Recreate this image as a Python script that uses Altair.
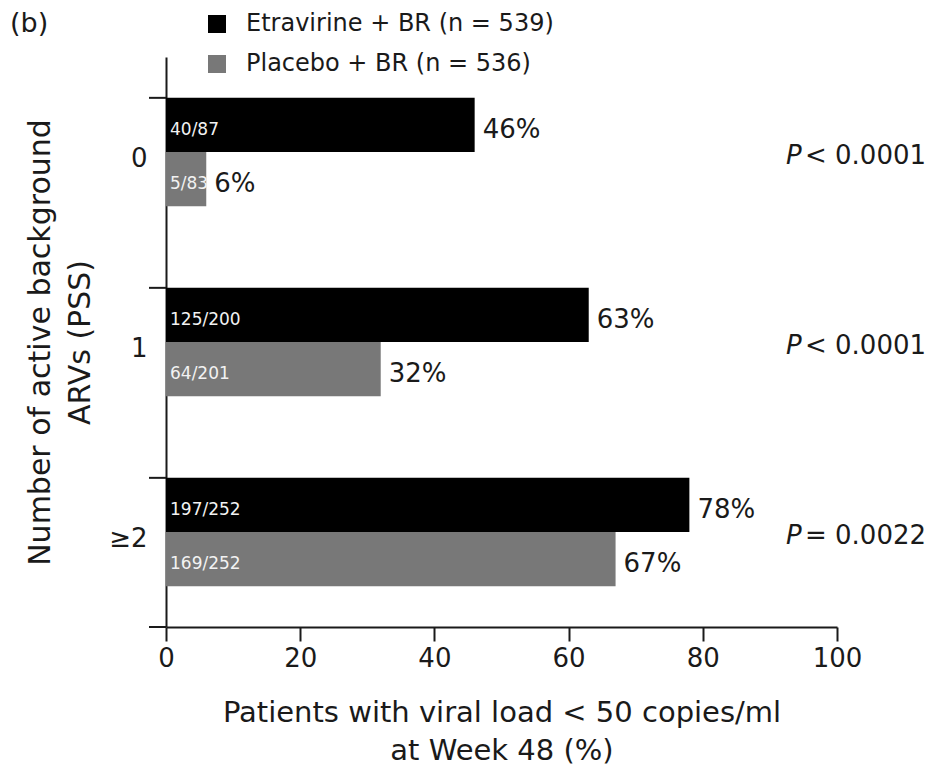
import altair as alt
import pandas as pd

categories = ["0", "1", "≥2"]
groups = ["Etravirine + BR (n = 539)", "Placebo + BR (n = 536)"]
etravirine_pct = [46, 63, 78]
placebo_pct = [6, 32, 67]
etravirine_frac = ["40/87", "125/200", "197/252"]
placebo_frac = ["5/83", "64/201", "169/252"]
p_text = ["< 0.0001", "< 0.0001", "= 0.0022"]
x_ticks = [0, 20, 40, 60, 80, 100]
panel_label = ["(b)"]
colors = ["#000000", "#787878"]
ink = "#1a1a1a"
FONT = "DejaVu Sans"

rows = []
for i, c in enumerate(categories):
    rows.append(dict(cat=c, grp=groups[0], pct=etravirine_pct[i], frac=etravirine_frac[i]))
    rows.append(dict(cat=c, grp=groups[1], pct=placebo_pct[i], frac=placebo_frac[i]))
df = pd.DataFrame(rows)
df["pct_label"] = df["pct"].astype(str) + "%"
pdf = pd.DataFrame({"cat": categories, "p": p_text})
one = pd.DataFrame({"t": panel_label})

y_axis = alt.Axis(grid=False, ticks=False, tickSize=0, domainColor=ink, domainWidth=2,
                  labelFontSize=26, labelColor=ink, labelPadding=19, labelOffset=7, labelAngle=0,
                  titleFontSize=30, titleFontWeight="normal", titleColor=ink,
                  titleLineHeight=40, titlePadding=13)
y_title = ["Number of active background", "ARVs (PSS)"]
y_scale = alt.Scale(domain=categories, paddingInner=0.43, paddingOuter=0.215)
Y = alt.Y("cat:N", sort=categories, scale=y_scale, axis=y_axis, title=y_title)
YO = alt.YOffset("grp:N", sort=groups, scale=alt.Scale(domain=groups, paddingInner=0, paddingOuter=0))

x_axis = alt.Axis(values=x_ticks, format="d", grid=False, domainColor=ink, domainWidth=2,
                  tickColor=ink, tickWidth=2, tickSize=14, labelFontSize=26, labelColor=ink,
                  labelPadding=4, labelFlush=False, titleFontSize=29, titleFontWeight="normal",
                  titleColor=ink, titlePadding=27, titleLineHeight=38)
X = alt.X("pct:Q", scale=alt.Scale(domain=[0, 100], nice=False), axis=x_axis,
          title=["Patients with viral load < 50 copies/ml", "at Week 48 (%)"])

base = alt.Chart(df)

bars = base.mark_bar().encode(
    x=X, y=Y, yOffset=YO,
    color=alt.Color("grp:N", sort=groups, scale=alt.Scale(domain=groups, range=colors),
                    legend=alt.Legend(orient="none", legendX=39, legendY=-45, title=None,
                                      symbolType="square", symbolSize=324, symbolStrokeWidth=0,
                                      labelFontSize=24, labelColor=ink, labelFont=FONT,
                                      labelLimit=500, labelOffset=17, rowPadding=16, padding=0)),
)

pct_text = base.mark_text(align="left", baseline="middle", dx=8, dy=5, fontSize=26, color=ink).encode(
    x=X, y=Y, yOffset=YO, text="pct_label:N")

frac_text = base.mark_text(align="left", baseline="middle", dx=4, dy=5, fontSize=17, color="#f2f2f2").encode(
    x=alt.value(0), y=Y, yOffset=YO, text="frac:N")

pbase = alt.Chart(pdf)
p_italic = pbase.mark_text(align="left", baseline="middle", dy=4, fontSize=26, fontStyle="italic", color=ink).encode(
    x=alt.value(620), y=Y, text=alt.value("P"))
p_rest = pbase.mark_text(align="left", baseline="middle", dx=19, dy=4, fontSize=26, color=ink).encode(
    x=alt.value(620), y=Y, text="p:N")

y_ticks = pbase.mark_rule(color=ink, strokeWidth=2).encode(
    y=alt.Y("cat:N", sort=categories, scale=y_scale, axis=y_axis, title=y_title, bandPosition=0),
    x=alt.value(-17), x2=alt.value(0))

obase = alt.Chart(one)
x_ext = obase.mark_rule(color=ink, strokeWidth=2).encode(
    x=alt.value(-17), x2=alt.value(0), y=alt.value(570))

panel = obase.mark_text(align="left", baseline="middle", fontSize=27, color=ink).encode(
    x=alt.value(-156), y=alt.value(-33), text="t:N")

chart = alt.layer(bars, pct_text, frac_text, p_italic, p_rest, y_ticks, x_ext, panel).properties(
    width=671, height=570,
    autosize=alt.AutoSizeParams(type="none"),
    padding={"left": 158, "top": 49, "right": 88, "bottom": 142},
).configure(font=FONT).configure_view(stroke=None)

chart.save("out.html", embed_options={"renderer": "svg", "actions": False})
